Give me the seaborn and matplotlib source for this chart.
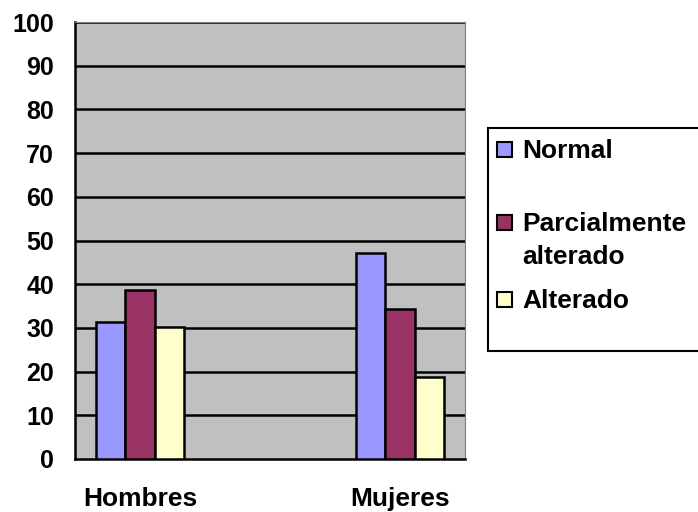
import pandas as pd
import numpy as np
import matplotlib
matplotlib.use("Agg")
import matplotlib.pyplot as plt
import seaborn as sns
from matplotlib.patches import Rectangle

categories = ["Hombres", " ", "Mujeres"]
series = ["Normal", "Parcialmente\nalterado", "Alterado"]
normal = [31.3, np.nan, 47.2]
parcial = [38.6, np.nan, 34.4]
alterado = [30.2, np.nan, 18.7]
colors = ["#9999FF", "#993366", "#FFFFCC"]

rows = []
for s, vals in zip(series, [normal, parcial, alterado]):
    for c, v in zip(categories, vals):
        rows.append({"cat": c, "serie": s, "valor": v})
data = pd.DataFrame(rows)

sns.set_style("white")
plt.rcParams["font.family"] = ["Liberation Sans", "DejaVu Sans"]
plt.rcParams["font.weight"] = "bold"
plt.rcParams["text.color"] = "black"
plt.rcParams["xtick.color"] = "black"
plt.rcParams["ytick.color"] = "black"

W, H = 698, 512
fig = plt.figure(figsize=(W / 100, H / 100), dpi=100)
ax = fig.add_axes([75 / W, 53 / H, 390 / W, 437 / H])
ax.set_facecolor("#C0C0C0")

sns.barplot(data=data, x="cat", y="valor", hue="serie", order=categories,
            hue_order=series, palette=colors, width=0.67, saturation=1,
            edgecolor="black", linewidth=1.8, ax=ax, zorder=3)

ax.set_ylim(0, 100)
ax.set_xlim(-0.5, 2.5)
ax.set_yticks(range(0, 101, 10))
for y in range(10, 101, 10):
    ax.axhline(y, color="black", linewidth=1.8, zorder=1)

ax.set_xticks([0, 2])
ax.set_xticklabels(["Hombres", "Mujeres"], fontsize=19, fontweight="bold", color="black")
ax.set_xticks([-0.5, 0.5, 1.5, 2.5], minor=True)
ax.tick_params(axis="x", which="major", length=0, pad=20)
ax.tick_params(axis="x", which="minor", length=5, width=1.8, direction="out", color="black")
ax.tick_params(axis="y", length=5, width=1.8, direction="out", labelsize=18, pad=10,
               color="black", labelcolor="black")
for lab in ax.get_yticklabels():
    lab.set_fontweight("bold")
ax.set_xlabel("")
ax.set_ylabel("")
ax.legend_.remove()

for side in ["top", "right"]:
    ax.spines[side].set_color("#808080")
for side in ["left", "bottom"]:
    ax.spines[side].set_color("black")
    ax.spines[side].set_linewidth(1.8)

# legend drawn by hand to follow the original layout
fig.add_artist(Rectangle((488 / W, 1 - 351 / H), 215 / W, 223 / H, transform=fig.transFigure,
                         facecolor="white", edgecolor="black", linewidth=1.5))
legend_rows = [150, 223, 300]
for s, c, yy in zip(series, colors, legend_rows):
    fig.add_artist(Rectangle((497 / W, 1 - (yy + 7) / H), 15 / W, 15 / H, transform=fig.transFigure,
                             facecolor=c, edgecolor="black", linewidth=1.5))
    fig.text(522 / W, 1 - (yy - 11) / H, s, fontsize=19, fontweight="bold", va="top", ha="left",
             linespacing=1.5, color="black")

fig.savefig("out.png", dpi=100)
